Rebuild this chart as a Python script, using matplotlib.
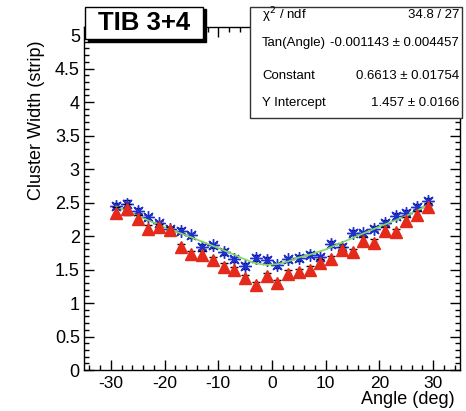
import matplotlib
matplotlib.use('Agg')
import matplotlib.pyplot as plt
from matplotlib.patches import Rectangle
from matplotlib.ticker import MultipleLocator, FuncFormatter

plt.rcParams['font.family'] = ['Liberation Sans', 'DejaVu Sans']

# bin centres (deg)
angle = [-29, -27, -25, -23, -21, -19, -17, -15, -13, -11, -9, -7, -5, -3, -1,
         1, 3, 5, 7, 9, 11, 13, 15, 17, 19, 21, 23, 25, 27, 29]

# blue stars
width_star = [2.45, 2.48, 2.38, 2.28, 2.19, 2.10, 2.08, 2.01, 1.84, 1.86, 1.76, 1.65, 1.55, 1.67, 1.64,
              1.56, 1.65, 1.67, 1.72, 1.68, 1.88, 1.84, 2.05, 2.04, 2.11, 2.20, 2.30, 2.35, 2.44, 2.52]
err_star = [0.05, 0.05, 0.04, 0.04, 0.04, 0.04, 0.04, 0.04, 0.04, 0.04, 0.04, 0.04, 0.04, 0.04, 0.04,
            0.04, 0.04, 0.04, 0.04, 0.04, 0.04, 0.04, 0.04, 0.04, 0.04, 0.04, 0.04, 0.04, 0.04, 0.05]

# red triangles
width_tri = [2.35, 2.40, 2.26, 2.11, 2.13, 2.09, 1.83, 1.73, 1.72, 1.64, 1.54, 1.49, 1.37, 1.27, 1.40,
             1.30, 1.44, 1.46, 1.50, 1.60, 1.65, 1.79, 1.76, 1.93, 1.90, 2.08, 2.06, 2.23, 2.32, 2.43]
err_tri = [0.08, 0.08, 0.06, 0.05, 0.05, 0.05, 0.05, 0.05, 0.05, 0.05, 0.05, 0.05, 0.05, 0.05, 0.05,
           0.05, 0.05, 0.05, 0.05, 0.05, 0.05, 0.05, 0.05, 0.05, 0.05, 0.05, 0.05, 0.05, 0.05, 0.06]

# fit curve (green)
fit_angle = [-29, -25, -20, -15, -10, -7, -5, -3, -1, 1, 3, 5, 7, 10, 15, 20, 25, 29]
fit_width = [2.44, 2.30, 2.13, 1.98, 1.82, 1.72, 1.65, 1.59, 1.57, 1.58, 1.62, 1.68, 1.72, 1.80, 1.97, 2.14, 2.30, 2.46]

stats_names = ['\u03c7$^2$ / ndf', 'Tan(Angle)', 'Constant', 'Y Intercept']
stats_values = ['34.8 / 27', '-0.001143 \u00b1 0.004457', '0.6613 \u00b1 0.01754', '1.457 \u00b1 0.0166']

W, H = 466, 411
fig = plt.figure(figsize=(W / 100, H / 100), dpi=100)
ax = fig.add_axes([84 / W, 1 - 370 / H, (460 - 84) / W, (370 - 27.3) / H])

ax.errorbar(angle, width_star, yerr=err_star, fmt='none', ecolor='black', elinewidth=1,
            capsize=3, capthick=1, zorder=2)
ax.plot(angle, width_star, ls='none', marker=(8, 2, 0), ms=9, mec='#1f2fd0', mew=1, zorder=3)
ax.plot(fit_angle, fit_width, color='#7ed957', lw=1.2, zorder=4)
ax.errorbar(angle, width_tri, yerr=err_tri, fmt='none', ecolor='black', elinewidth=1,
            capsize=3, capthick=1, zorder=4)
ax.plot(angle, width_tri, ls='none', marker='^', ms=9, color='#e42a1a', mec='#e42a1a', zorder=5)

ax.set_xlim(-35, 35)
ax.set_ylim(0, 5.115)
ax.xaxis.set_major_locator(MultipleLocator(10))
ax.xaxis.set_minor_locator(MultipleLocator(2))
ax.yaxis.set_major_locator(MultipleLocator(0.5))
ax.yaxis.set_minor_locator(MultipleLocator(0.1))
ax.yaxis.set_major_formatter(FuncFormatter(lambda v, p: '%g' % v))
ax.xaxis.set_major_formatter(FuncFormatter(lambda v, p: '%g' % v))
ax.tick_params(which='both', direction='in', top=True, right=True, width=1, labelsize=13)
ax.tick_params(which='major', length=7)
ax.tick_params(which='minor', length=3.5)
ax.tick_params(axis='x', pad=4, labelsize=12.5)
ax.tick_params(axis='y', pad=3)
for s in ax.spines.values():
    s.set_linewidth(1)

fig.text(37 / W, 1 - 40 / H, 'Cluster Width (strip)', rotation=90, ha='center', va='top', fontsize=13)
fig.text(455 / W, 1 - 391 / H, 'Angle (deg)', ha='right', va='top', fontsize=13)

# title box with shadow
fig.add_artist(Rectangle((88 / W, 1 - 42 / H), 118 / W, 33 / H, transform=fig.transFigure,
                         facecolor='black', edgecolor='black', zorder=10))
fig.add_artist(Rectangle((85 / W, 1 - 39 / H), 118 / W, 32 / H, transform=fig.transFigure,
                         facecolor='white', edgecolor='black', lw=1, zorder=11))
fig.text(144 / W, 1 - 23 / H, 'TIB 3+4', ha='center', va='center', fontsize=18.5,
         fontweight='bold', zorder=12)

# stats box
fig.add_artist(Rectangle((250 / W, 1 - 118 / H), 212 / W, 111 / H, transform=fig.transFigure,
                         facecolor='white', edgecolor='#333333', lw=1, zorder=10))
rows_y = [15, 43, 76, 103]
for name, val, yy in zip(stats_names, stats_values, rows_y):
    fig.text(262 / W, 1 - yy / H, name, ha='left', va='center', fontsize=9.5, zorder=12)
    fig.text(459 / W, 1 - yy / H, val, ha='right', va='center', fontsize=9.5, zorder=12)

fig.savefig('out.png', dpi=100)
